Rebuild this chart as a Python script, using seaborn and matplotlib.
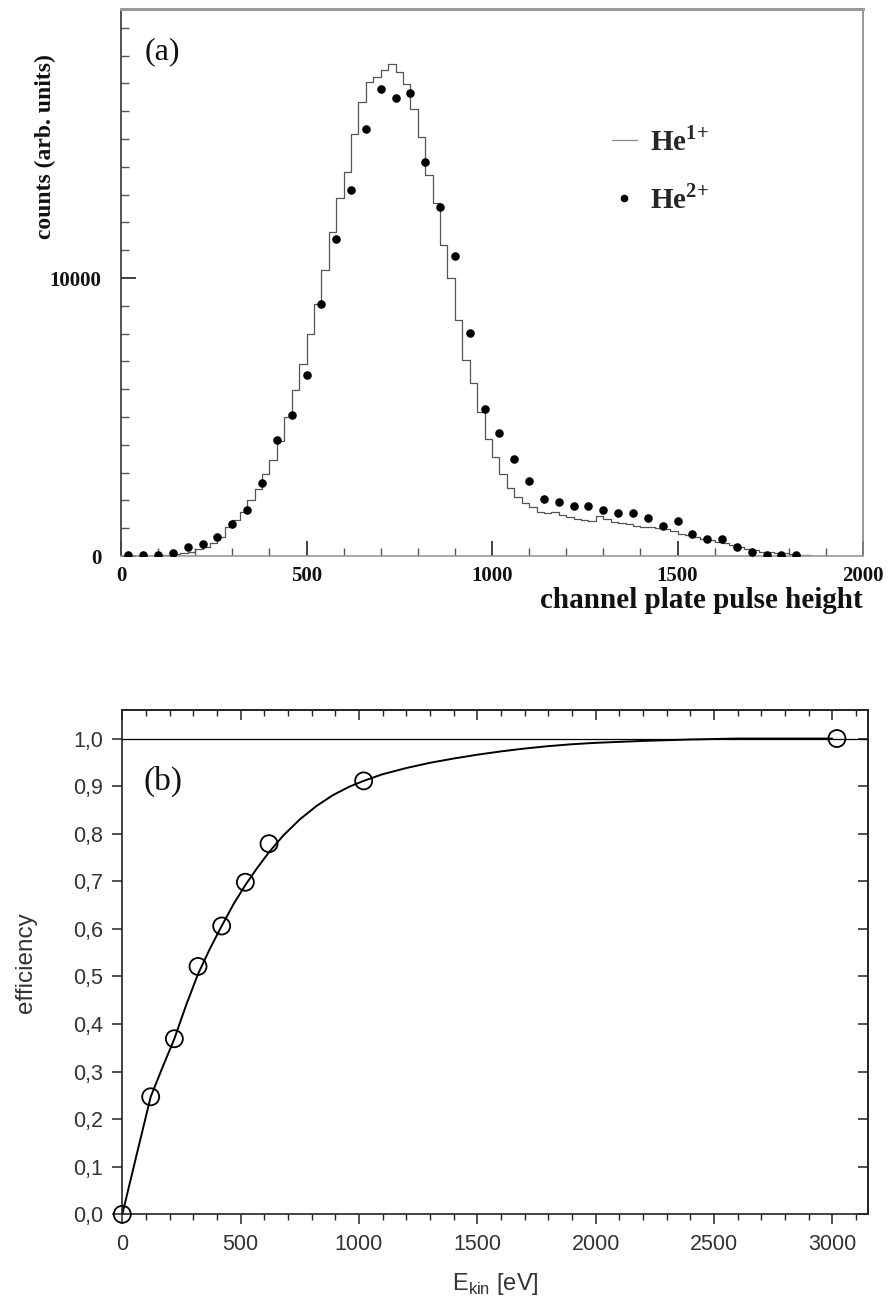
import matplotlib
matplotlib.use("Agg")
import matplotlib.pyplot as plt
import seaborn as sns
from matplotlib.ticker import MultipleLocator, FixedLocator
from matplotlib.lines import Line2D

# ---------------- data: panel (a) ----------------
he1_edges = list(range(0, 2001, 20))
he1_counts = [
    0, 0, 0, 5, 10, 20, 35, 60, 100, 155,
    240, 336, 456, 695, 1031, 1295, 1595, 2030, 2420, 2960,
    3440, 4140, 5000, 5960, 6900, 8000, 9070, 10288, 11667, 12890,
    13825, 15167, 16343, 17038, 17242, 17482, 17687, 17422, 16966, 16067,
    15084, 13705, 12686, 11187, 9988, 8489, 7060, 6212, 5192, 4197,
    3573, 2938, 2434, 2134, 1918, 1774, 1595, 1535, 1571, 1475,
    1391, 1319, 1295, 1271, 1439, 1319, 1235, 1175, 1151, 1079,
    1055, 1031, 1000, 960, 900, 800, 740, 680, 620, 560,
    510, 450, 380, 320, 260, 200, 160, 130, 110, 90,
    70, 50, 30, 10, 0, 0, 0, 0, 0, 0,
]
he2_x = [20, 60, 100, 140, 180, 220, 260, 300, 340, 380,
         420, 460, 500, 540, 580, 620, 660, 700, 740, 780,
         820, 860, 900, 940, 980, 1020, 1060, 1100, 1140, 1180,
         1220, 1260, 1300, 1340, 1380, 1420, 1460, 1500, 1540, 1580,
         1620, 1660, 1700, 1740, 1780, 1820]
he2_y = [20, 20, 30, 120, 336, 420, 695, 1150, 1643, 2626,
         4160, 5060, 6510, 9065, 11403, 13155, 15360, 16800, 16486, 16655,
         14160, 12554, 10800, 8010, 5300, 4420, 3490, 2690, 2060, 1950,
         1805, 1805, 1645, 1535, 1560, 1360, 1085, 1260, 780, 610,
         605, 330, 150, 36, 36, 36]
top_xticks = [0, 500, 1000, 1500, 2000]
top_yticks = [0, 10000]
legend_labels = [r"He$^{\mathbf{1{+}}}$", r"He$^{\mathbf{2{+}}}$"]

# ---------------- data: panel (b) ----------------
eff_E = [0, 120, 220, 320, 420, 520, 620, 1020, 3020]
eff_val = [0.0, 0.247, 0.369, 0.521, 0.606, 0.698, 0.779, 0.911, 1.0]
fit_E = [0, 60, 120, 170, 220, 270, 320, 370, 420, 470, 520, 570, 620,
         680, 750, 820, 890, 960, 1020, 1100, 1200, 1300, 1400, 1500,
         1600, 1700, 1800, 1900, 2000, 2200, 2400, 2600, 2800, 3000]
fit_val = [0.0, 0.124, 0.247, 0.309, 0.369, 0.44, 0.505, 0.558, 0.606,
           0.652, 0.692, 0.728, 0.761, 0.796, 0.83, 0.858, 0.881, 0.899,
           0.911, 0.925, 0.938, 0.949, 0.958, 0.966, 0.973, 0.979, 0.984,
           0.988, 0.991, 0.995, 0.998, 1.0, 1.0, 1.0]
ref_level = 1.0
bot_xticks = [0, 500, 1000, 1500, 2000, 2500, 3000]
bot_yticks = [0.0, 0.1, 0.2, 0.3, 0.4, 0.5, 0.6, 0.7, 0.8, 0.9, 1.0]
bot_yticklabels = ["0,0", "0,1", "0,2", "0,3", "0,4", "0,5",
                   "0,6", "0,7", "0,8", "0,9", "1,0"]

# ---------------- style ----------------
sns.set_style("white")
plt.rcParams["font.family"] = ["Liberation Sans", "DejaVu Sans"]
plt.rcParams["mathtext.fontset"] = "custom"
plt.rcParams["mathtext.rm"] = "Liberation Sans"
plt.rcParams["mathtext.bf"] = "Liberation Serif:bold"

W, H = 890, 1312
fig = plt.figure(figsize=(W / 100, H / 100), dpi=100)
fig.patch.set_facecolor("white")

SERIF = "Liberation Serif"

# ================= panel (a) =================
ax1 = fig.add_axes([121 / W, 1 - 556 / H, 742 / W, 547 / H])
centers = [e + 10 for e in he1_edges[:-1]]
sns.histplot(x=centers, weights=he1_counts, bins=he1_edges, element="step",
             fill=False, color="#555555", linewidth=0.9, ax=ax1)
sns.scatterplot(x=he2_x, y=he2_y, color="black", s=38, linewidth=0,
                ax=ax1, zorder=3)
ax1.set_xlim(0, 2000)
ax1.set_ylim(0, 19680)
ax1.xaxis.set_major_locator(FixedLocator(top_xticks))
ax1.xaxis.set_minor_locator(MultipleLocator(100))
ax1.yaxis.set_major_locator(FixedLocator(top_yticks))
ax1.yaxis.set_minor_locator(MultipleLocator(1000))
ax1.tick_params(which="both", direction="in", top=False, right=False,
                bottom=True, left=True)
ax1.tick_params(which="major", length=11, width=1.3, color="#333333")
ax1.tick_params(which="minor", length=6, width=1.0, color="#555555")
ax1.tick_params(axis="y", which="major", pad=14)
ax1.tick_params(axis="x", which="major", pad=7)
for lbl in ax1.get_xticklabels() + ax1.get_yticklabels():
    lbl.set_fontfamily(SERIF)
    lbl.set_fontweight("bold")
    lbl.set_fontsize(15)
    lbl.set_color("#111111")

ax1.set_xlabel("channel plate pulse height", loc="right", fontsize=21,
               fontfamily=SERIF, fontweight="bold", labelpad=1, color="#111111")
ax1.set_ylabel("counts (arb. units)", fontsize=17, fontfamily=SERIF,
               fontweight="bold", color="#111111")
ax1.yaxis.set_label_coords(-0.087, 0.748)

ax1.spines["left"].set_color("#444444")
ax1.spines["left"].set_linewidth(1.3)
ax1.spines["bottom"].set_color("#999999")
ax1.spines["bottom"].set_linewidth(1.2)
ax1.spines["top"].set_color("#999999")
ax1.spines["top"].set_linewidth(2.2)
ax1.spines["right"].set_color("#888888")
ax1.spines["right"].set_linewidth(1.2)

ax1.text(0.0553, 0.921, "(a)", transform=ax1.transAxes, ha="center",
         va="center", fontsize=23, fontfamily=SERIF, color="#111111")

handles = [Line2D([0], [0], color="#888888", lw=0.9),
           Line2D([0], [0], marker="o", ls="", color="black", markersize=4.5)]
ax1.legend(handles, legend_labels, loc="center left",
           bbox_to_anchor=(0.642, 0.705), frameon=False, handlelength=0.85,
           handletextpad=0.45, labelspacing=0.95, borderpad=0,
           prop={"family": SERIF, "weight": "bold", "size": 21})

# ================= panel (b) =================
ax2 = fig.add_axes([122.3 / W, 1 - 1214.3 / H, 745.4 / W, 504.3 / H])
ax2.axhline(ref_level, color="black", lw=0.9, zorder=1)
sns.lineplot(x=fit_E, y=fit_val, color="black", linewidth=1.4, ax=ax2,
             zorder=2)
sns.scatterplot(x=eff_E, y=eff_val, s=150, facecolors="none",
                edgecolor="black", linewidth=1.3, ax=ax2, zorder=3,
                clip_on=False)
ax2.set_xlim(0, 3150)
ax2.set_ylim(0, 1.06)
ax2.xaxis.set_major_locator(FixedLocator(bot_xticks))
ax2.xaxis.set_minor_locator(MultipleLocator(100))
ax2.yaxis.set_major_locator(FixedLocator(bot_yticks))
ax2.set_yticklabels(bot_yticklabels)
ax2.tick_params(which="both", direction="out", bottom=True, left=True,
                top=False, right=False, color="#222222")
ax2.tick_params(which="major", length=7, width=1.1, pad=7)
ax2.tick_params(which="minor", length=4, width=1.0)
for lbl in ax2.get_xticklabels() + ax2.get_yticklabels():
    lbl.set_fontsize(15.5)
    lbl.set_color("#333333")

secx = ax2.secondary_xaxis("top")
secx.xaxis.set_major_locator(FixedLocator(bot_xticks))
secx.xaxis.set_minor_locator(MultipleLocator(100))
secx.tick_params(which="both", direction="in", labeltop=False,
                 color="#222222")
secx.tick_params(which="major", length=7, width=1.1)
secx.tick_params(which="minor", length=4, width=1.0)
secy = ax2.secondary_yaxis("right")
secy.yaxis.set_major_locator(FixedLocator(bot_yticks))
secy.tick_params(which="both", direction="in", labelright=False,
                 length=7, width=1.1, color="#222222")
for sp in ax2.spines.values():
    sp.set_color("#222222")
    sp.set_linewidth(1.2)
secx.spines["top"].set_linewidth(1.2)
secy.spines["right"].set_linewidth(1.2)

ax2.set_xlabel(r"E$_{\mathrm{kin}}$ [eV]", fontsize=17, color="#333333",
               labelpad=12)
ax2.set_ylabel("efficiency", fontsize=17.5, color="#333333", labelpad=26)

ax2.text(0.0546, 0.859, "(b)", transform=ax2.transAxes, ha="center",
         va="center", fontsize=24, fontfamily=SERIF, color="#111111")

fig.savefig("out.png", dpi=100)
